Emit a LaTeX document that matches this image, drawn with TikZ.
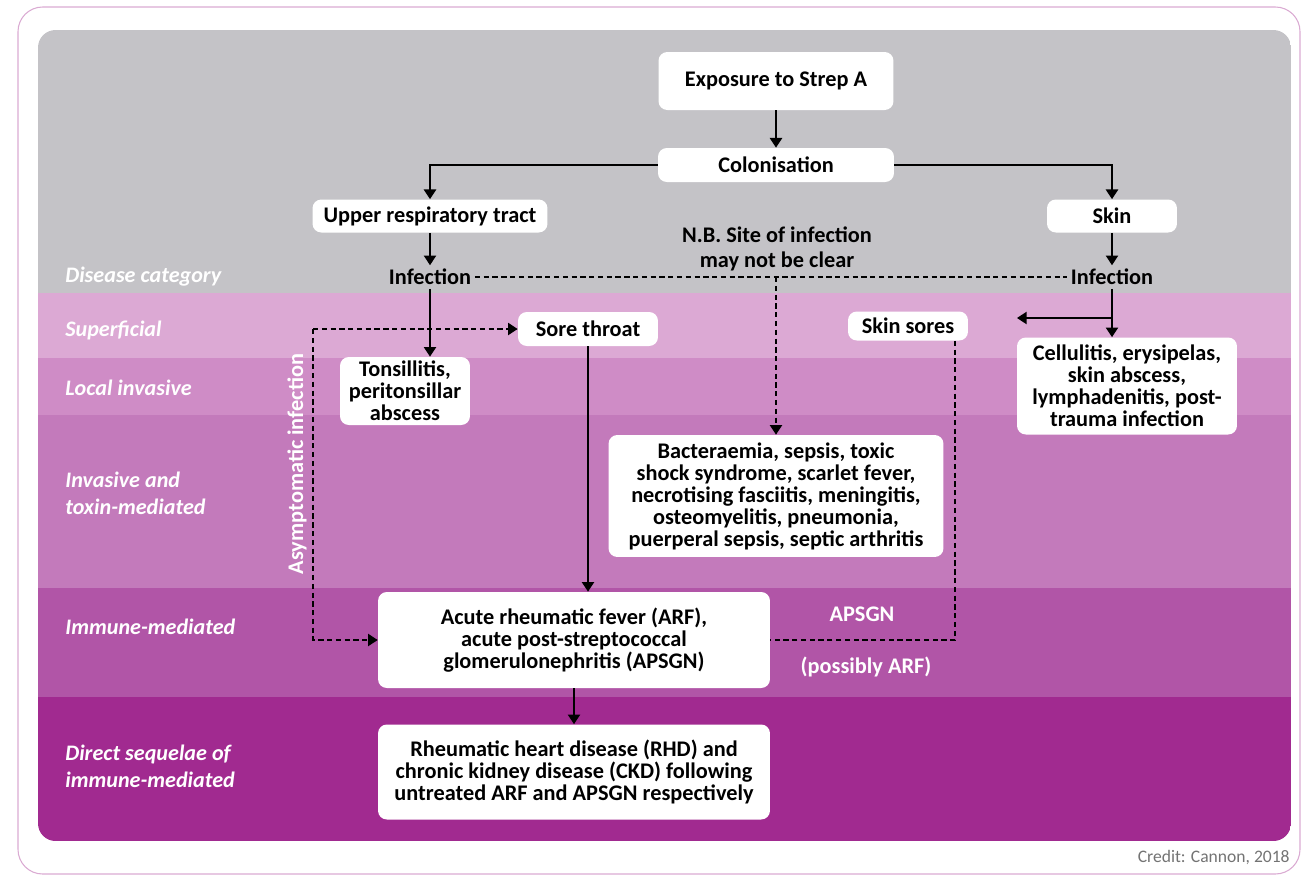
\documentclass[tikz,border=0pt]{standalone}
\usepackage{fontspec}
\setmainfont{Carlito}
\usepackage{xcolor}
\usetikzlibrary{arrows.meta}

\definecolor{bandgrey}{RGB}{196,195,199}
\definecolor{bandsup}{RGB}{220,169,212}
\definecolor{bandloc}{RGB}{207,140,198}
\definecolor{bandinv}{RGB}{195,122,187}
\definecolor{bandimm}{RGB}{177,85,167}
\definecolor{bandseq}{RGB}{161,42,144}
\definecolor{framepink}{RGB}{218,170,210}

\begin{document}
\begin{tikzpicture}[x=0.02cm,y=-0.02cm,
    box/.style={fill=white, rounded corners=5pt, align=center, inner sep=2pt,
      font=\fontsize{12.7}{12.5}\selectfont\bfseries},
    plain/.style={align=center, inner sep=2pt, font=\fontsize{12.7}{14.5}\selectfont\bfseries},
    band/.style={align=left, anchor=west, inner sep=0pt, text=white,
      font=\fontsize{12.6}{15.3}\selectfont\bfseries\itshape},
    link/.style={-{Triangle[width=7pt,length=5.5pt]}, line width=0.8pt},
    dlink/.style={-{Triangle[width=7pt,length=5.5pt]}, line width=0.8pt, dash pattern=on 3pt off 2pt},
    dline/.style={line width=0.8pt, dash pattern=on 3pt off 2pt}]
  \useasboundingbox (0,0) rectangle (1303,877);

  \draw[framepink, line width=0.6pt, rounded corners=14pt] (18,7) rectangle (1300,874);
  \begin{scope}
    \clip[rounded corners=10pt] (38,30) rectangle (1291,841);
    \fill[bandgrey] (38,30) rectangle (1291,293);
    \fill[bandsup] (38,293) rectangle (1291,358);
    \fill[bandloc] (38,358) rectangle (1291,415);
    \fill[bandinv] (38,415) rectangle (1291,588);
    \fill[bandimm] (38,588) rectangle (1291,697);
    \fill[bandseq] (38,697) rectangle (1291,841);
  \end{scope}

  \node[band] (lcat) at (65,277) {Disease category};
  \node[band] (lsup) at (65,330) {Superficial};
  \node[band] (lloc) at (65,388) {Local invasive};
  \node[band] (linv) at (65,493) {Invasive and\\toxin-mediated};
  \node[band] (limm) at (65,627) {Immune-mediated};
  \node[band] (lseq) at (65,766) {Direct sequelae of\\immune-mediated};

  \node[box, minimum width=4.7cm, minimum height=1.16cm] (exposure) at (776,81) {Exposure to Strep A};
  \node[box, minimum width=4.72cm, minimum height=0.68cm] (colon) at (776,165) {Colonisation};
  \node[box, minimum width=4.7cm, minimum height=0.66cm] (upper) at (430,216) {Upper respiratory tract};
  \node[box, minimum width=2.6cm, minimum height=0.66cm] (skin) at (1112,216) {Skin};
  \node[plain] (infl) at (430,277) {Infection};
  \node[plain] (infr) at (1112,277) {Infection};
  \node[plain] (nb) at (777,249) {N.B. Site of infection\\may not be clear};

  \node[box, minimum width=2.6cm, minimum height=1.36cm] (tonsil) at (405,391) {Tonsillitis,\\peritonsillar\\abscess};
  \node[box, minimum width=2.8cm, minimum height=0.68cm] (sore) at (588,329) {Sore throat};
  \node[box, minimum width=2.4cm, minimum height=0.58cm] (sores) at (908,326) {Skin sores};
  \node[box, minimum width=4.4cm, minimum height=1.94cm] (cell) at (1127,386)
    {Cellulitis, erysipelas,\\skin abscess,\\lymphadenitis, post-\\trauma infection};
  \node[box, minimum width=6.7cm, minimum height=2.44cm] (bact) at (776,496)
    {Bacteraemia, sepsis, toxic\\shock syndrome, scarlet fever,\\necrotising fasciitis, meningitis,\\osteomyelitis, pneumonia,\\puerperal sepsis, septic arthritis};
  \node[box, minimum width=7.84cm, minimum height=1.92cm] (arf) at (574,640)
    {Acute rheumatic fever (ARF),\\acute post-streptococcal\\glomerulonephritis (APSGN)};
  \node[box, minimum width=7.84cm, minimum height=1.9cm] (rhd) at (574,772)
    {Rheumatic heart disease (RHD) and\\chronic kidney disease (CKD) following\\untreated ARF and APSGN respectively};

  \node[plain, text=white] (apsgn) at (862,614) {APSGN};
  \node[plain, text=white] (possibly) at (866,667) {(possibly ARF)};
  \node[plain, text=white, rotate=90] (asym) at (297,464) {Asymptomatic infection};
  \node[anchor=east, inner sep=0pt, text=black!55, font=\fontsize{10}{12}\selectfont] (credit) at (1290,858) {Credit: Cannon, 2018};

  \coordinate (asymx) at (313,329);
  \coordinate (soresx) at (955,0);
  \coordinate (skintip) at (1017,318);

  \draw[link] (exposure) -- (colon);
  \draw[link] (colon.west) -| (upper.north);
  \draw[link] (colon.east) -| (skin.north);
  \draw[link] (upper) -- (infl);
  \draw[link] (skin) -- (infr);
  \draw[link] (infl) -- (infl |- tonsil.north);
  \draw[link] (infr) -- (infr |- cell.north);
  \draw[link] (infr |- skintip) -- (skintip);
  \draw[dline] (infl.east) -- (infr.west);
  \draw[dlink] (bact.north |- infl.east) -- (bact.north);
  \draw[dlink] (asymx) -- (sore.west);
  \draw[dlink] (asymx) |- (arf.west);
  \draw[dline] (sores.south -| soresx) |- (arf.east);
  \draw[link] (sore.south) -- (sore.south |- arf.north);
  \draw[link] (arf) -- (rhd);
\end{tikzpicture}
\end{document}
